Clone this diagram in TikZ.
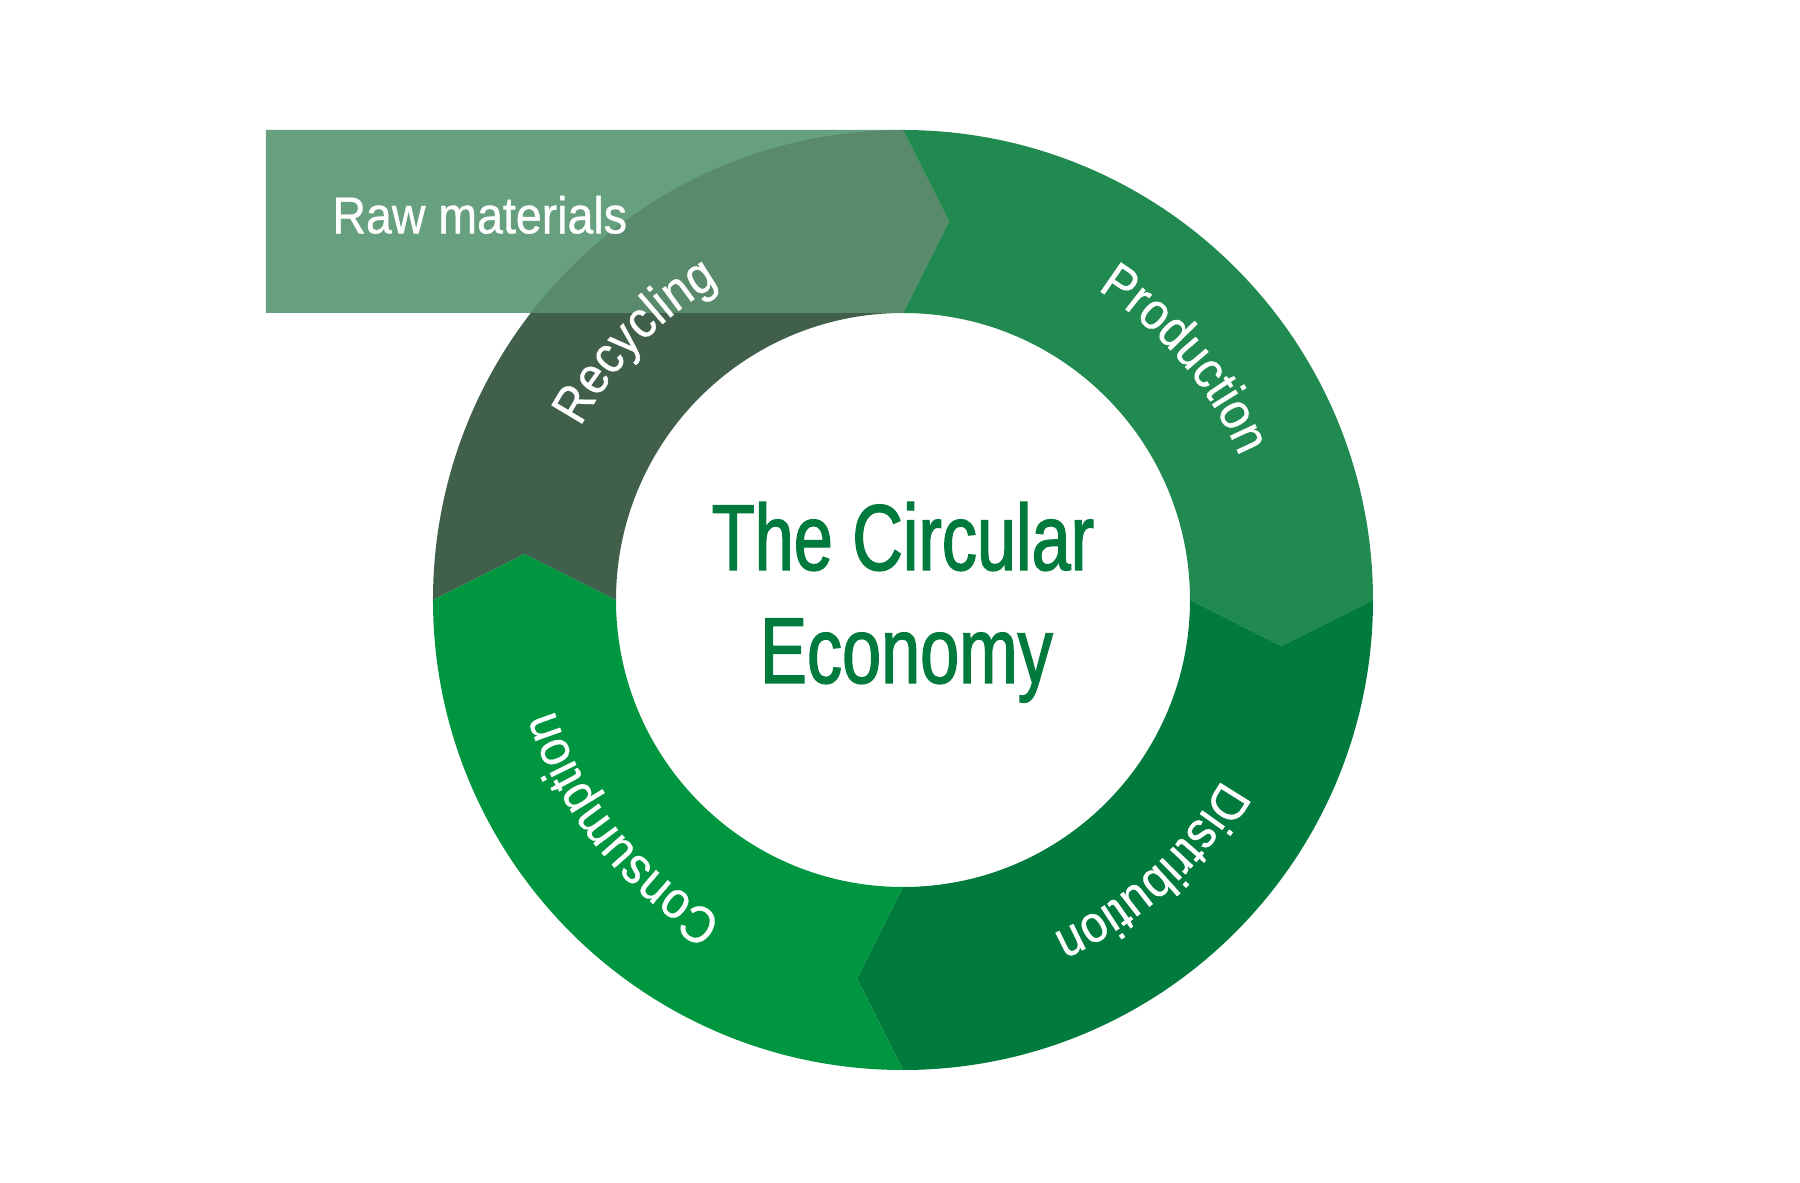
\documentclass[tikz,border=0pt]{standalone}
\usepackage{fontspec}
\usetikzlibrary{decorations.text}
\newfontfamily\labelfont[FakeStretch=0.9,FakeBold=0.8]{Liberation Sans}
\newfontfamily\titlefont[FakeStretch=0.75,FakeBold=1.5]{Liberation Sans}
\newcommand\lblfont{\labelfont\fontsize{25.85}{30}\selectfont}
\newcommand\ttlfont{\titlefont\fontsize{46.8}{52}\selectfont}
\definecolor{prodc}{HTML}{218A50}
\definecolor{distc}{HTML}{007A3D}
\definecolor{consc}{HTML}{00963F}
\definecolor{recyc}{HTML}{41604C}
\definecolor{rawc}{HTML}{66A07E}
\definecolor{rawover}{HTML}{5A8A6C}
\definecolor{titlec}{HTML}{007A3D}
\begin{document}
\begin{tikzpicture}[x=0.5pt,y=0.5pt,
  title/.style={anchor=base, inner sep=0pt, text=titlec, font=\ttlfont},
  rawlabel/.style={anchor=base west, inner sep=0pt, text=white, font=\lblfont},
  arclabel/.style={decorate, decoration={text along path, text={|\lblfont|#1}, text color=white, text align=center}}
]
\useasboundingbox[fill=white] (-903,-583) rectangle (897,600);
% ring segments (outer 470, inner 287, mid 378.5, tip offset 46)
\fill[recyc] (180:470) arc[start angle=180,end angle=90,radius=470] -- (83.07:381.3) -- (90:287) arc[start angle=90,end angle=180,radius=287] -- (173.07:381.3) -- cycle;
\fill[prodc] (90:470) arc[start angle=90,end angle=0,radius=470] -- (-6.93:381.3) -- (0:287) arc[start angle=0,end angle=90,radius=287] -- (83.07:381.3) -- cycle;
\fill[distc] (0:470) arc[start angle=0,end angle=-90,radius=470] -- (-96.93:381.3) -- (-90:287) arc[start angle=-90,end angle=0,radius=287] -- (-6.93:381.3) -- cycle;
\fill[consc] (-90:470) arc[start angle=-90,end angle=-180,radius=470] -- (-186.93:381.3) -- (-180:287) arc[start angle=-180,end angle=-90,radius=287] -- (-96.93:381.3) -- cycle;
% raw materials arrow box
\fill[rawc] (-637,470) -- (0,470) -- (83.07:381.3) -- (0,287) -- (-637,287) -- cycle;
\begin{scope}
  \clip (0,0) circle[radius=470];
  \fill[rawover] (-637,470) -- (0,470) -- (83.07:381.3) -- (0,287) -- (-637,287) -- cycle;
\end{scope}
\node[rawlabel] (raw) at (-571,366.7) {Raw materials};
% curved labels
\path[arclabel=Production] (70.5:366) arc[start angle=70.5,end angle=10.5,radius=366];
\path[arclabel=Distribution] (-17.6:366) arc[start angle=-17.6,end angle=-77.6,radius=366];
\path[arclabel=Consumption] (-111:366) arc[start angle=-111,end angle=-171,radius=366];
\path[arclabel=Recycling] (166:366) arc[start angle=166,end angle=106,radius=366];
% title
\node[title] (t1) at (0,30) {The Circular};
\node[title] (t2) at (3.5,-83) {Economy};
\end{tikzpicture}
\end{document}
